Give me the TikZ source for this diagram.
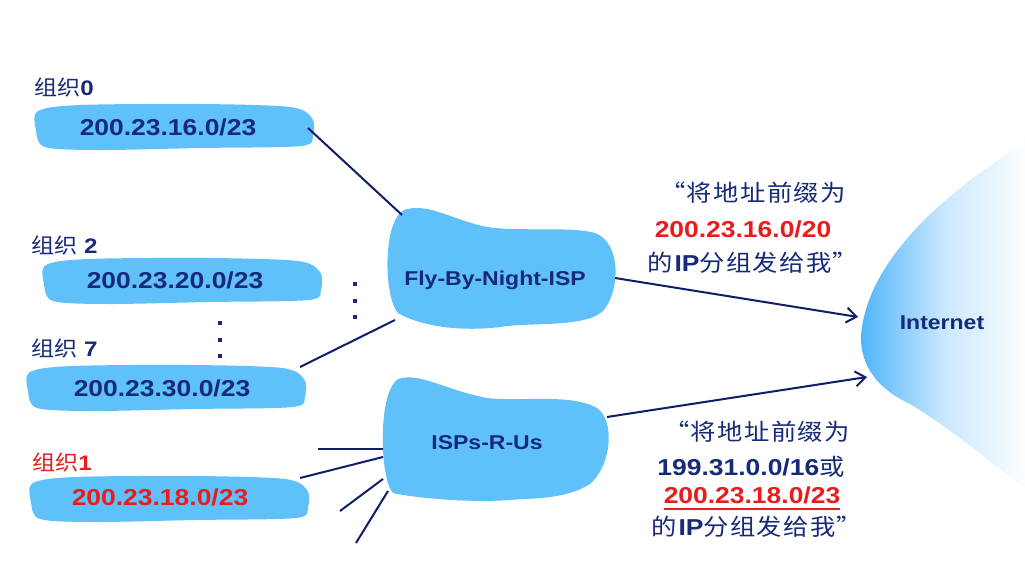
\documentclass[tikz,border=0pt]{standalone}
\usepackage{fontspec}
\setmainfont{Liberation Sans}[FakeStretch=1.15]
\newfontfamily\cjk{Noto Sans CJK SC}[FakeStretch=1.1,LetterSpace=6]
\newfontfamily\cjkl{Noto Sans CJK SC}[FakeStretch=1.1]
\usetikzlibrary{arrows.meta}
\definecolor{blob}{RGB}{96,192,250}
\definecolor{navy}{RGB}{22,42,120}
\definecolor{lred}{RGB}{232,28,28}
\definecolor{wire}{RGB}{16,30,105}
\definecolor{inet}{RGB}{80,180,250}
\newcommand{\orgshape}[2]{%
  \begin{scope}[shift={(#1,#2)}]
    \fill[blob] plot[smooth cycle, tension=0.5] coordinates
      {(3,8) (45,2) (165,1) (255,4) (277,15) (278,32) (266,43) (165,45) (65,47) (10,44) (1,27)};
  \end{scope}}
\tikzset{
  addr/.style={font=\fontsize{23}{26}\selectfont\bfseries, text=navy, inner sep=0pt},
  lab/.style={font=\fontsize{21}{24}\selectfont, text=navy, anchor=west, inner sep=0pt},
  ispname/.style={font=\fontsize{20}{23}\selectfont\bfseries, text=navy, inner sep=0pt},
  note/.style={font=\fontsize{23}{26}\selectfont, text=navy, inner sep=0pt},
  wireline/.style={draw=wire, line width=2pt},
  adv/.style={draw=wire, line width=2pt, -{Straight Barb[length=10pt,width=15pt,line width=2pt]}},
  dotsq/.style={fill=navy, minimum size=4.5pt, inner sep=0pt}
}
\begin{document}
\begin{tikzpicture}[x=1pt,y=-1pt]
\useasboundingbox (0,0) rectangle (1025,571);
\fill[white] (0,0) rectangle (1025,571);

% Internet cloud (gradient)
\shade[left color=inet, right color=white, middle color=inet!30]
  (1030,140) .. controls (955,185) and (868,255) .. (861,335)
  .. controls (860,368) and (880,390) .. (910,404)
  .. controls (950,428) and (990,462) .. (1030,492) -- cycle;
\node[ispname] (inet) at (942,323) {Internet};

% organisation blobs
\orgshape{35}{103}
\orgshape{43}{257}
\orgshape{27}{364}
\orgshape{30}{475}

\node[lab] (l0) at (34,88) {{\cjkl 组织}\textbf{0}};
\node[lab] (l2) at (31,246) {{\cjkl 组织} \textbf{2}};
\node[lab] (l7) at (31,349) {{\cjkl 组织} \textbf{7}};
\node[lab, text=lred] (l1) at (32,463) {{\cjkl 组织}\textbf{1}};

\node[addr] (o0) at (168,127) {200.23.16.0/23};
\node[addr] (o2) at (175,280) {200.23.20.0/23};
\node[addr] (o7) at (162,388) {200.23.30.0/23};
\node[addr, text=lred] (o1) at (160,497) {200.23.18.0/23};

% vertical dots
\node[dotsq] (da1) at (220,323) {};
\node[dotsq] (da2) at (220,340) {};
\node[dotsq] (da3) at (220,356) {};
\node[dotsq] (db1) at (355,284) {};
\node[dotsq] (db2) at (355,301) {};
\node[dotsq] (db3) at (355,317) {};

% Fly-By-Night-ISP blob
\fill[blob] (404,210) .. controls (428,202) and (452,220) .. (487,227)
  .. controls (520,232) and (570,226) .. (595,233)
  .. controls (622,243) and (620,292) .. (603,311)
  .. controls (585,328) and (530,322) .. (500,327)
  .. controls (460,332) and (420,326) .. (398,313)
  .. controls (384,298) and (382,222) .. (404,210) -- cycle;
\node[ispname] (fly) at (495,280) {Fly-By-Night-ISP};

% ISPs-R-Us blob
\fill[blob] (398,379) .. controls (420,372) and (445,390) .. (487,398)
  .. controls (520,402) and (570,393) .. (597,408)
  .. controls (615,420) and (612,465) .. (590,484)
  .. controls (565,500) and (530,498) .. (510,500)
  .. controls (470,503) and (415,498) .. (393,493)
  .. controls (380,480) and (377,393) .. (398,379) -- cycle;
\node[ispname] (isp) at (487,443) {ISPs-R-Us};

% connector points
\coordinate (o0e) at (308,128);
\coordinate (flyA) at (402,215);
\coordinate (o7e) at (300,367);
\coordinate (flyB) at (395,320);
\coordinate (flyE) at (615,278);
\coordinate (inA) at (858,317);
\coordinate (ispE) at (607,417);
\coordinate (inB) at (867,377);
\coordinate (f1) at (318,449);
\coordinate (i1) at (383,449);
\coordinate (o1e) at (300,478);
\coordinate (i2) at (383,457);
\coordinate (f3) at (340,511);
\coordinate (i3) at (383,479);
\coordinate (f4) at (356,543);
\coordinate (i4) at (388,491);

\draw[wireline] (o0e) -- (flyA);
\draw[wireline] (o7e) -- (flyB);
\draw[wireline] (f1) -- (i1);
\draw[wireline] (o1e) -- (i2);
\draw[wireline] (f3) -- (i3);
\draw[wireline] (f4) -- (i4);
\draw[adv] (flyE) -- (inA);
\draw[adv] (ispE) -- (inB);

% advertisement texts
\node[note] (a1) at (753,193) {\cjk “将地址前缀为};
\node[addr, text=lred] (a2) at (743,229) {200.23.16.0/20};
\node[note] (a3) at (753,263) {{\cjk 的}\textbf{IP}{\cjk 分组发给我”}};

\node[note] (b1) at (757,432) {\cjk “将地址前缀为};
\node[note] (b2) at (751,467) {\textbf{\fontsize{23}{26}\selectfont 199.31.0.0/16}{\cjk 或}};
\node[addr, text=lred] (b3) at (752,495) {200.23.18.0/23};
\draw[draw=lred, line width=1.5pt] ([yshift=-5pt]b3.south west) -- ([yshift=-5pt]b3.south east);
\node[note] (b4) at (757,527) {{\cjk 的}\textbf{IP}{\cjk 分组发给我”}};
\end{tikzpicture}
\end{document}
